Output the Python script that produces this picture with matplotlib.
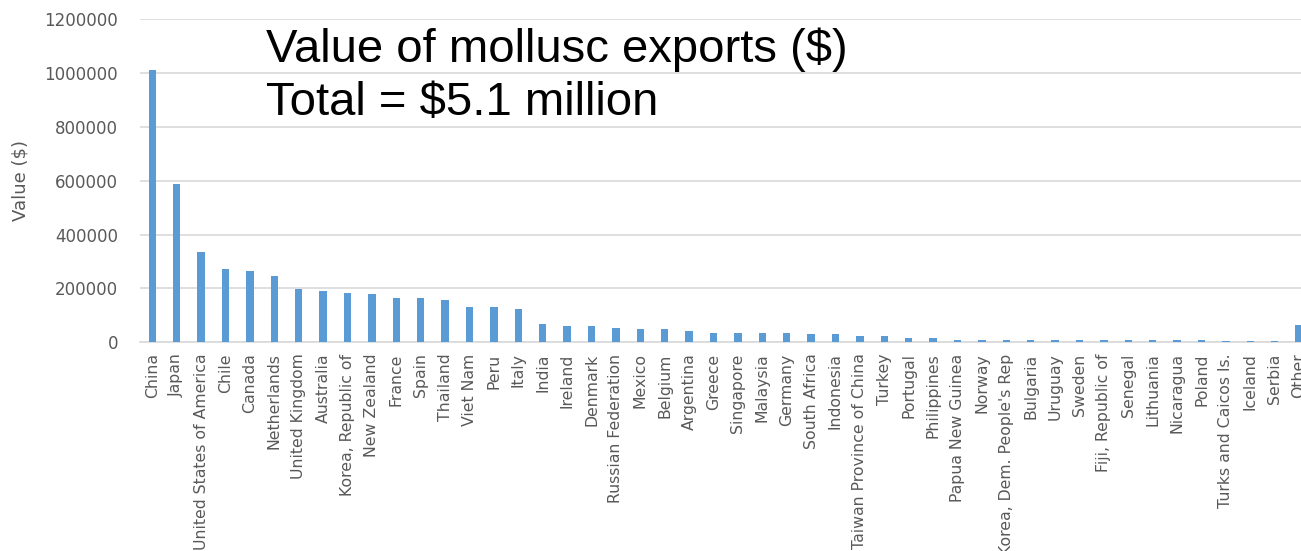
import matplotlib
matplotlib.use("Agg")
import matplotlib.pyplot as plt
import numpy as np

# Export value of molluscs by country (US dollars)
countries = [
    "China", "Japan", "United States of America", "Chile", "Canada",
    "Netherlands", "United Kingdom", "Australia", "Korea, Republic of",
    "New Zealand", "France", "Spain", "Thailand", "Viet Nam", "Peru", "Italy",
    "India", "Ireland", "Denmark", "Russian Federation", "Mexico", "Belgium",
    "Argentina", "Greece", "Singapore", "Malaysia", "Germany", "South Africa",
    "Indonesia", "Taiwan Province of China", "Turkey", "Portugal",
    "Philippines", "Papua New Guinea", "Norway", "Korea, Dem. People's Rep",
    "Bulgaria", "Uruguay", "Sweden", "Fiji, Republic of", "Senegal",
    "Lithuania", "Nicaragua", "Poland", "Turks and Caicos Is.", "Iceland",
    "Serbia", "Other",
]
values = [
    1010000, 589000, 334000, 272000, 265000,
    245000, 198000, 190000, 184000,
    178000, 163000, 163000, 156000, 130000, 130000, 122000,
    69000, 62000, 62000, 54000, 48000, 48000,
    42000, 36000, 36000, 36000, 36000, 30000,
    30000, 22000, 22000, 15000,
    15000, 8500, 8000, 7000,
    7000, 7000, 7000, 7000, 7000,
    7000, 7000, 7000, 6000, 6000,
    6000, 63000,
]
y_ticks = [0, 200000, 400000, 600000, 800000, 1000000, 1200000]
title_lines = ["Value of mollusc exports ($)", "Total = $5.1 million"]

W, H = 1301, 551
fig = plt.figure(figsize=(W / 100, H / 100), dpi=100)
fig.patch.set_facecolor("white")

left_px, right_px = 140.1, 1311.3
top_px, zero_px = 19.0, 342.3
ax = fig.add_axes([left_px / W, 1 - zero_px / H,
                   (right_px - left_px) / W, (zero_px - top_px) / H])

x = np.arange(len(countries))
ax.bar(x, values, width=0.31, color="#5B9BD5", zorder=3)

ax.set_xlim(-0.5, len(countries) - 0.5)
ax.set_ylim(0, 1200000)
ax.set_yticks(y_ticks)
ax.set_yticklabels([str(v) for v in y_ticks])
ax.set_xticks(x)
ax.set_xticklabels(countries, rotation=90, va="top", ha="center")

grey = "#595959"
ax.tick_params(axis="y", length=0, pad=16, labelsize=12, labelcolor=grey)
ax.tick_params(axis="x", length=0, pad=8, labelsize=11.3, labelcolor=grey)

ax.grid(axis="y", color="#D9D9D9", linewidth=1.2, zorder=0)
for side in ("top", "right", "left"):
    ax.spines[side].set_visible(False)
ax.spines["bottom"].set_color("#D9D9D9")
ax.spines["bottom"].set_linewidth(1.2)

ax.set_ylabel("Value ($)", fontsize=13, color=grey)
ax.yaxis.set_label_coords((30 - left_px) / (right_px - left_px), 0.5)

fig.text(266 / W, 1 - 61.7 / H, title_lines[0], family="Liberation Sans",
         fontsize=34, color="black", va="baseline", ha="left")
fig.text(266 / W, 1 - 115 / H, title_lines[1], family="Liberation Sans",
         fontsize=34, color="black", va="baseline", ha="left")

fig.savefig("out.png", dpi=100, facecolor="white")
